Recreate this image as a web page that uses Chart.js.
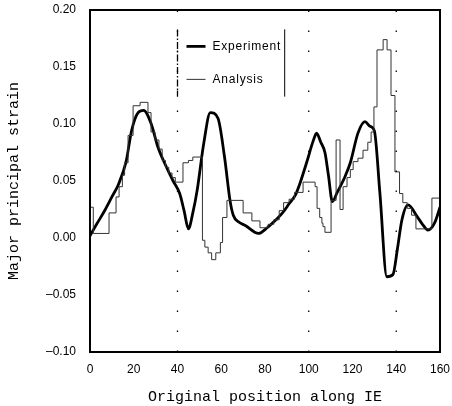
<!DOCTYPE html>
<html>
<head>
<meta charset="utf-8">
<script src="https://cdn.jsdelivr.net/npm/chart.js@4/dist/chart.umd.min.js"></script>
<style>
  body { margin: 0; background: #fff; }
  #wrap { width: 452px; height: 406px; }
</style>
</head>
<body>
<div id="wrap"><canvas id="myChart" width="452" height="406"></canvas></div>
<script>
"use strict";

// experiment curve (thick line)
var expX = [0, 3, 7, 10, 13, 16.5, 19, 22, 24.5, 28, 31, 34.5, 38, 41, 43, 45, 47, 49, 52, 55, 58.5, 61.5, 64, 65.5, 68, 71, 77, 81, 85, 88, 91, 94, 96, 99, 102, 103.6, 105.5, 107.4, 109, 110.8, 113, 116.6, 119, 122.5, 125.7, 128, 130, 132.5, 135.7, 138.5, 140.5, 142.6, 145.4, 149.5, 152, 154.5, 157.7, 160];
var expY = [0.002, 0.012, 0.025, 0.036, 0.047, 0.067, 0.094, 0.110, 0.112, 0.100, 0.080, 0.064, 0.050, 0.039, 0.024, 0.008, 0.022, 0.042, 0.083, 0.110, 0.105, 0.071, 0.033, 0.020, 0.014, 0.011, 0.004, 0.009, 0.016, 0.022, 0.030, 0.038, 0.048, 0.066, 0.085, 0.092, 0.084, 0.075, 0.055, 0.032, 0.040, 0.054, 0.066, 0.092, 0.102, 0.098, 0.094, 0.040, -0.034, -0.032, -0.010, 0.016, 0.029, 0.019, 0.012, 0.007, 0.014, 0.027];

// analysis (stepped thin line) - value holds from x[i] to x[i+1]
var anaX = [0, 1.5, 8.7, 11.9, 13.3, 14.8, 15.8, 17.4, 19.7, 22.9, 26.5, 27.9, 29.7, 31.5, 33, 34.5, 36, 37.5, 39, 42.5, 45, 47, 51.4, 52.5, 54, 55.6, 57.5, 59.6, 60.6, 62.6, 70, 74, 77.7, 81.4, 84, 86.5, 88.5, 91, 93.5, 97.4, 102.9, 103.8, 105, 106, 106.5, 107.4, 110.2, 112.5, 114.3, 115.7, 117.5, 119, 120.3, 122.5, 124.8, 127, 128.5, 129.8, 131.2, 134, 135.8, 137.6, 139.4, 141.5, 143, 145, 147, 149, 153.5, 156.3, 160];
var anaY = [0.027, 0.004, 0.022, 0.036, 0.045, 0.055, 0.066, 0.090, 0.116, 0.119, 0.110, 0.093, 0.086, 0.078, 0.068, 0.062, 0.057, 0.053, 0.049, 0.066, 0.068, 0.071, -0.002, -0.008, -0.013, -0.019, -0.013, -0.004, 0.018, 0.033, 0.022, 0.015, 0.009, 0.012, 0.016, 0.024, 0.031, 0.034, 0.040, 0.049, 0.045, 0.026, 0.018, 0.013, 0.010, 0.005, 0.033, 0.086, 0.025, 0.045, 0.053, 0.060, 0.067, 0.070, 0.077, 0.084, 0.093, 0.115, 0.165, 0.174, 0.165, 0.125, 0.058, 0.039, 0.031, 0.026, 0.020, 0.008, 0.008, 0.035, 0.035];

// dotted vertical reference lines
var refX = [40, 100, 140];

var xTicks = [0, 20, 40, 60, 80, 100, 120, 140, 160];
var yTicks = [-0.1, -0.05, 0, 0.05, 0.1, 0.15, 0.2];

var seriesNames = ["Experiment", "Analysis"];
var legendAt = { x1: 40, x2: 89, y1: 0.183, y2: 0.124 };

function pairs(xs, ys) {
  return xs.map(function (x, i) {
    return { x: x, y: ys[i] };
  });
}

var datasets = refX.map(function (x) {
  return {
    data: [{ x: x, y: yTicks[0] }, { x: x, y: yTicks[yTicks.length - 1] }],
    borderColor: "#000",
    borderWidth: 1.3,
    borderDash: [1.5, 18.5],
    pointRadius: 0
  };
});

datasets.push({
  label: seriesNames[1],
  data: pairs(anaX, anaY),
  borderColor: "#333",
  borderWidth: 1,
  stepped: true,
  pointRadius: 0
});

datasets.push({
  label: seriesNames[0],
  data: pairs(expX, expY),
  borderColor: "#000",
  borderWidth: 2.8,
  cubicInterpolationMode: "monotone",
  pointRadius: 0
});

var framePlugin = {
  id: "frame",
  afterDraw: function (chart) {
    var ctx = chart.ctx;
    var a = chart.chartArea;
    ctx.save();
    ctx.strokeStyle = "#000";
    ctx.lineWidth = 2;
    ctx.strokeRect(a.left, a.top, a.right - a.left, a.bottom - a.top);
    ctx.restore();
  }
};

var legendPlugin = {
  id: "innerLegend",
  afterDatasetsDraw: function (chart) {
    var ctx = chart.ctx;
    var xs = chart.scales.x;
    var ys = chart.scales.y;
    var left = xs.getPixelForValue(legendAt.x1);
    var right = xs.getPixelForValue(legendAt.x2);
    var top = ys.getPixelForValue(legendAt.y1);
    var bottom = ys.getPixelForValue(legendAt.y2);

    ctx.save();
    ctx.fillStyle = "#fff";
    ctx.fillRect(left + 2, top, right - left - 3, bottom - top);

    ctx.strokeStyle = "#000";
    ctx.lineWidth = 1.3;
    ctx.setLineDash([7, 2, 1.5, 2]);
    ctx.beginPath();
    ctx.moveTo(left, top);
    ctx.lineTo(left, bottom);
    ctx.stroke();
    ctx.setLineDash([]);
    ctx.lineWidth = 1;
    ctx.beginPath();
    ctx.moveTo(right, top);
    ctx.lineTo(right, bottom);
    ctx.stroke();

    var rowY = [top + 17, top + 50];
    var widths = [2.8, 1];
    ctx.font = "12px 'Liberation Sans', Arial, sans-serif";
    ctx.letterSpacing = "0.8px";
    ctx.textBaseline = "middle";
    ctx.fillStyle = "#000";
    for (var i = 0; i < seriesNames.length; i++) {
      ctx.lineWidth = widths[i];
      ctx.strokeStyle = i === 0 ? "#000" : "#333";
      ctx.beginPath();
      ctx.moveTo(left + 9, rowY[i]);
      ctx.lineTo(left + 28, rowY[i]);
      ctx.stroke();
      ctx.fillText(seriesNames[i], left + 35, rowY[i]);
    }
    ctx.restore();
  }
};

var ctx = document.getElementById("myChart").getContext("2d");
var myChart = new Chart(ctx, {
  type: "line",
  data: { datasets: datasets },
  plugins: [legendPlugin, framePlugin],
  options: {
    responsive: false,
    animation: false,
    layout: { padding: { top: 10, right: 12, left: 0, bottom: 0 } },
    plugins: {
      legend: { display: false },
      tooltip: { enabled: false }
    },
    scales: {
      x: {
        type: "linear",
        min: 0,
        max: 160,
        afterFit: function (scale) {
          scale.height = 54;
          scale.paddingLeft = 0;
          scale.paddingRight = 0;
        },
        afterBuildTicks: function (scale) {
          scale.ticks = xTicks.map(function (v) {
            return { value: v };
          });
        },
        grid: { display: false, drawTicks: false },
        border: { display: false },
        ticks: {
          padding: 10,
          color: "#000",
          font: { family: "'Liberation Sans', Arial, sans-serif", size: 12 }
        },
        title: {
          display: true,
          text: "Original position along IE",
          color: "#000",
          padding: { top: 2, bottom: 0 },
          font: { family: "'Liberation Mono', 'DejaVu Sans Mono', monospace", size: 15 }
        }
      },
      y: {
        type: "linear",
        min: -0.1,
        max: 0.2,
        afterFit: function (scale) {
          scale.width = 90;
          scale.paddingTop = 0;
          scale.paddingBottom = 0;
        },
        afterBuildTicks: function (scale) {
          scale.ticks = yTicks.map(function (v) {
            return { value: v };
          });
        },
        grid: { display: false, drawTicks: false },
        border: { display: false },
        ticks: {
          padding: 14,
          color: "#000",
          font: { family: "'Liberation Sans', Arial, sans-serif", size: 12 },
          callback: function (v) {
            var s = Math.abs(v).toFixed(2);
            return v < -1e-9 ? "\u2013" + s : s;
          }
        },
        title: {
          display: true,
          text: "Major principal strain",
          color: "#000",
          padding: { top: 5, bottom: 0 },
          font: { family: "'Liberation Mono', 'DejaVu Sans Mono', monospace", size: 15 }
        }
      }
    }
  }
});
</script>
</body>
</html>
